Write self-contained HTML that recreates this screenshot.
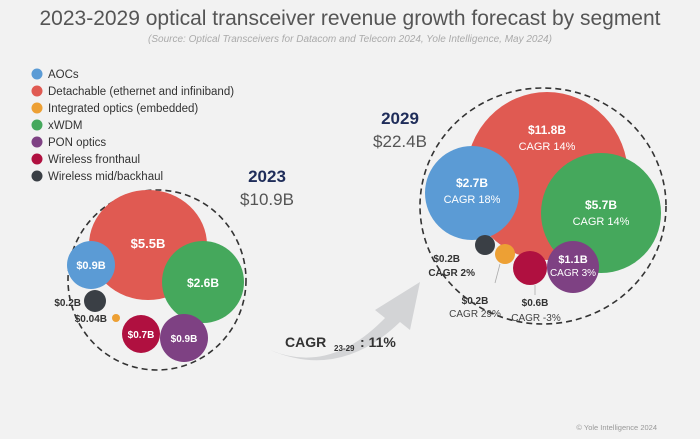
<!DOCTYPE html>
<html><head><meta charset="utf-8"><style>
html,body{margin:0;padding:0;background:#f2f2f2;}
svg{display:block;font-family:"Liberation Sans",sans-serif;}
</style></head><body>
<svg width="700" height="439" viewBox="0 0 700 439" xmlns="http://www.w3.org/2000/svg">
<rect width="700" height="439" fill="#f2f2f2"/>
<text x="350" y="25" text-anchor="middle" font-size="21" fill="#555">2023-2029 optical transceiver revenue growth forecast by segment</text>
<text x="350" y="42" text-anchor="middle" font-size="10" font-style="italic" fill="#aaa">(Source: Optical Transceivers for Datacom and Telecom 2024, Yole Intelligence, May 2024)</text>
<g font-size="11.5" fill="#333">
<circle cx="37" cy="74" r="5.5" fill="#5b9bd5"/><text x="48" y="78">AOCs</text>
<circle cx="37" cy="91" r="5.5" fill="#e05a52"/><text x="48" y="95">Detachable (ethernet and infiniband)</text>
<circle cx="37" cy="108" r="5.5" fill="#eda034"/><text x="48" y="112">Integrated optics (embedded)</text>
<circle cx="37" cy="125" r="5.5" fill="#45a85c"/><text x="48" y="129">xWDM</text>
<circle cx="37" cy="142" r="5.5" fill="#7e4183"/><text x="48" y="146">PON optics</text>
<circle cx="37" cy="159" r="5.5" fill="#b01040"/><text x="48" y="163">Wireless fronthaul</text>
<circle cx="37" cy="176" r="5.5" fill="#3a3f45"/><text x="48" y="180">Wireless mid/backhaul</text>
</g>
<!-- 2023 -->
<text x="267" y="182" text-anchor="middle" font-size="17" font-weight="bold" fill="#1f2d5a">2023</text>
<text x="267" y="205" text-anchor="middle" font-size="17" fill="#555">$10.9B</text>
<ellipse cx="157" cy="280" rx="89" ry="90" fill="none" stroke="#333" stroke-width="1.6" stroke-dasharray="6,4"/>
<ellipse cx="148" cy="245" rx="59" ry="55" fill="#e05a52"/>
<text x="148" y="248" text-anchor="middle" font-size="13" font-weight="bold" fill="#fff">$5.5B</text>
<circle cx="91" cy="265" r="24" fill="#5b9bd5"/>
<text x="91" y="269" text-anchor="middle" font-size="11" font-weight="bold" fill="#fff">$0.9B</text>
<circle cx="203" cy="282" r="41" fill="#45a85c"/>
<text x="203" y="287" text-anchor="middle" font-size="12" font-weight="bold" fill="#fff">$2.6B</text>
<circle cx="95" cy="301" r="11" fill="#3a3f45"/>
<circle cx="116" cy="318" r="4" fill="#eda034"/>
<circle cx="141" cy="334" r="19" fill="#b01040"/>
<text x="141" y="338" text-anchor="middle" font-size="10" font-weight="bold" fill="#fff">$0.7B</text>
<circle cx="184" cy="338" r="24" fill="#7e4183"/>
<text x="184" y="342" text-anchor="middle" font-size="10" font-weight="bold" fill="#fff">$0.9B</text>
<text x="81" y="306" text-anchor="end" font-size="10" font-weight="bold" fill="#333">$0.2B</text>
<text x="107" y="322" text-anchor="end" font-size="10" font-weight="bold" fill="#333">$0.04B</text>
<!-- arrow -->
<path d="M270 350 Q330 375 385 318 L375 310 L420 282 L410 330 L400 322 Q340 380 270 350 Z" fill="#d3d4d6"/>
<text x="285" y="347" font-size="14" font-weight="bold" fill="#333">CAGR</text>
<text x="334" y="351" font-size="8" font-weight="bold" fill="#333">23-29</text>
<text x="360" y="347" font-size="14" font-weight="bold" fill="#333">: 11%</text>
<!-- 2029 -->
<text x="400" y="124" text-anchor="middle" font-size="17" font-weight="bold" fill="#1f2d5a">2029</text>
<text x="400" y="147" text-anchor="middle" font-size="17" fill="#555">$22.4B</text>
<ellipse cx="543" cy="206" rx="123" ry="118" fill="none" stroke="#333" stroke-width="1.6" stroke-dasharray="6,4"/>
<ellipse cx="547" cy="176" rx="81" ry="84" fill="#e05a52"/>
<text x="547" y="134" text-anchor="middle" font-size="12" font-weight="bold" fill="#fff">$11.8B</text>
<text x="547" y="150" text-anchor="middle" font-size="11" fill="#fff">CAGR 14%</text>
<circle cx="472" cy="193" r="47" fill="#5b9bd5"/>
<text x="472" y="187" text-anchor="middle" font-size="12" font-weight="bold" fill="#fff">$2.7B</text>
<text x="472" y="203" text-anchor="middle" font-size="11" fill="#fff">CAGR 18%</text>
<circle cx="601" cy="213" r="60" fill="#45a85c"/>
<text x="601" y="209" text-anchor="middle" font-size="12" font-weight="bold" fill="#fff">$5.7B</text>
<text x="601" y="225" text-anchor="middle" font-size="11" fill="#fff">CAGR 14%</text>
<circle cx="485" cy="245" r="10" fill="#3a3f45"/>
<circle cx="505" cy="254" r="10" fill="#eda034"/>
<circle cx="530" cy="268" r="17" fill="#b01040"/>
<circle cx="573" cy="267" r="26" fill="#7e4183"/>
<text x="573" y="263" text-anchor="middle" font-size="11" font-weight="bold" fill="#fff">$1.1B</text>
<text x="573" y="276" text-anchor="middle" font-size="10" fill="#fff">CAGR 3%</text>
<line x1="500" y1="264" x2="495" y2="283" stroke="#aaa" stroke-width="0.8"/>
<line x1="535" y1="285" x2="535" y2="295" stroke="#aaa" stroke-width="0.8"/>
<text x="460" y="262" text-anchor="end" font-size="10" font-weight="bold" fill="#333">$0.2B</text>
<text x="475" y="276" text-anchor="end" font-size="10" font-weight="bold" fill="#333">CAGR 2%</text>
<text x="475" y="304" text-anchor="middle" font-size="10" font-weight="bold" fill="#333">$0.2B</text>
<text x="475" y="317" text-anchor="middle" font-size="10" fill="#444">CAGR 29%</text>
<text x="535" y="306" text-anchor="middle" font-size="10" font-weight="bold" fill="#333">$0.6B</text>
<text x="536" y="321" text-anchor="middle" font-size="10" fill="#444">CAGR -3%</text>
<text x="657" y="430" text-anchor="end" font-size="7.5" fill="#999">© Yole Intelligence 2024</text>
</svg>
</body></html>
